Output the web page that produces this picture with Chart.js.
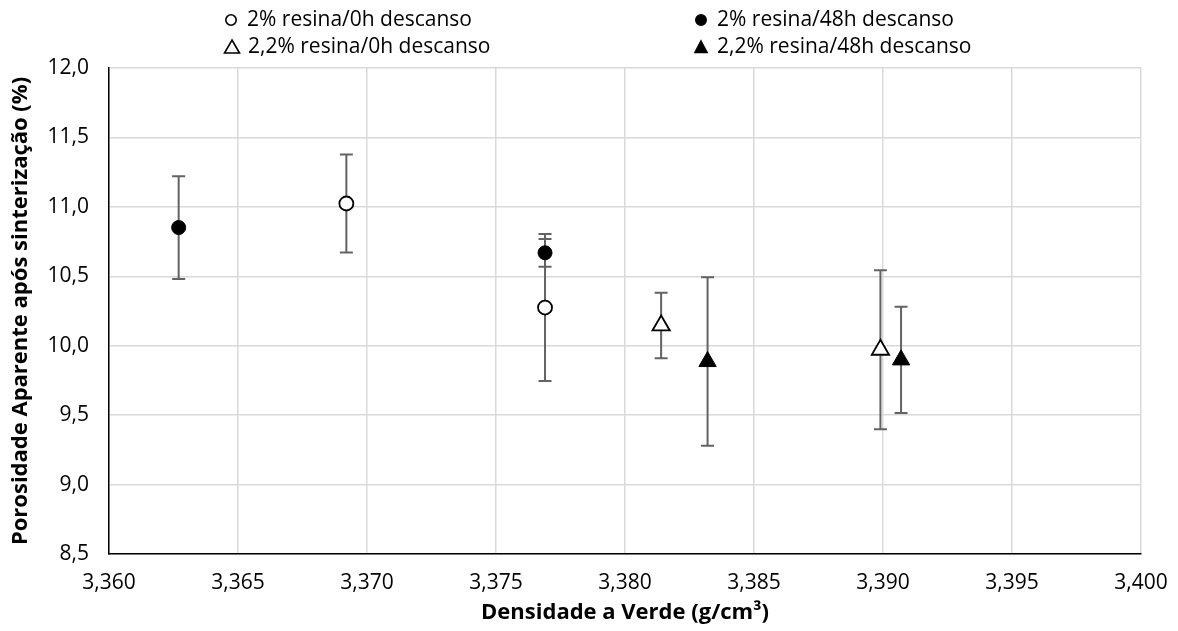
<!DOCTYPE html>
<html>
<head>
<meta charset="utf-8">
<script src="https://cdn.jsdelivr.net/npm/chart.js@4.4.1/dist/chart.umd.min.js"></script>
<style>
  body { margin: 0; background: #fff; }
  #wrap { width: 1178px; height: 631px; position: relative; }
</style>
</head>
<body>
<div id="wrap"><canvas id="porosidadeChart"></canvas></div>
<script>
// series labels (legend)
const seriesLabels = [
  "2% resina/0h descanso",
  "2% resina/48h descanso",
  "2,2% resina/0h descanso",
  "2,2% resina/48h descanso",
];

// densidade a verde (g/cm3)
const xResina2_0h = [3.3692, 3.3769];
const xResina2_48h = [3.3627, 3.3769];
const xResina22_0h = [3.3814, 3.3899];
const xResina22_48h = [3.3832, 3.3907];

// porosidade aparente (%)
const yResina2_0h = [11.024, 10.275];
const yResina2_48h = [10.851, 10.669];
const yResina22_0h = [10.146, 9.971];
const yResina22_48h = [9.886, 9.898];

// desvio (error bars, +/-)
const errResina2_0h = [0.353, 0.53];
const errResina2_48h = [0.37, 0.1];
const errResina22_0h = [0.236, 0.573];
const errResina22_48h = [0.607, 0.382];

// axis ticks
const xMin = 3.36, xMax = 3.4, xStep = 0.005;
const yMin = 8.5, yMax = 12.0, yStep = 0.5;

const FONT = "'Open Sans', sans-serif";

function toPoints(xs, ys, errs) {
  return xs.map((x, i) => ({ x: x, y: ys[i], err: errs[i] }));
}

// draws vertical error bars behind the markers
const errorBarPlugin = {
  id: "errorBars",
  beforeDatasetsDraw(chart) {
    const ctx = chart.ctx;
    const xs = chart.scales.x;
    const ys = chart.scales.y;
    ctx.save();
    ctx.strokeStyle = "#636363";
    ctx.lineWidth = 2;
    chart.data.datasets.forEach((ds) => {
      ds.data.forEach((p) => {
        const px = xs.getPixelForValue(p.x);
        const top = ys.getPixelForValue(p.y + p.err);
        const bot = ys.getPixelForValue(p.y - p.err);
        ctx.beginPath();
        ctx.moveTo(px, top);
        ctx.lineTo(px, bot);
        ctx.moveTo(px - 6.5, top);
        ctx.lineTo(px + 6.5, top);
        ctx.moveTo(px - 6.5, bot);
        ctx.lineTo(px + 6.5, bot);
        ctx.stroke();
      });
    });
    ctx.restore();
  },
};

// legend in two columns like the original
const legendPlugin = {
  id: "twoColLegend",
  afterDraw(chart) {
    const ctx = chart.ctx;
    const spots = [
      { x: 231, y: 20 },
      { x: 701, y: 20 },
      { x: 232, y: 47 },
      { x: 701, y: 47 },
    ];
    ctx.save();
    chart.data.datasets.forEach((ds, i) => {
      const s = spots[i];
      const filled = ds.backgroundColor === "#000";
      ctx.fillStyle = ds.backgroundColor;
      ctx.strokeStyle = "#000";
      ctx.lineWidth = 1.6;
      ctx.beginPath();
      if (ds.pointStyle === "circle") {
        ctx.arc(s.x, s.y, 5.2, 0, Math.PI * 2);
      } else if (filled) {
        ctx.moveTo(s.x, s.y - 6);
        ctx.lineTo(s.x + 6, s.y + 5.5);
        ctx.lineTo(s.x - 6, s.y + 5.5);
        ctx.closePath();
      } else {
        ctx.moveTo(s.x, s.y - 7);
        ctx.lineTo(s.x + 7.5, s.y + 6);
        ctx.lineTo(s.x - 7.5, s.y + 6);
        ctx.closePath();
      }
      ctx.fill();
      ctx.stroke();
      ctx.fillStyle = "#000";
      ctx.font = "21px " + FONT;
      ctx.textBaseline = "middle";
      ctx.textAlign = "left";
      ctx.fillText(ds.label, s.x + 16, s.y);
    });
    ctx.restore();
  },
};

const ctx = document.getElementById("porosidadeChart").getContext("2d");
new Chart(ctx, {
  type: "scatter",
  data: {
    datasets: [
      {
        label: seriesLabels[0],
        data: toPoints(xResina2_0h, yResina2_0h, errResina2_0h),
        pointStyle: "circle",
        pointRadius: 7,
        backgroundColor: "#fff",
        borderColor: "#000",
        borderWidth: 1.8,
      },
      {
        label: seriesLabels[1],
        data: toPoints(xResina2_48h, yResina2_48h, errResina2_48h),
        pointStyle: "circle",
        pointRadius: 7,
        backgroundColor: "#000",
        borderColor: "#000",
        borderWidth: 1,
      },
      {
        label: seriesLabels[2],
        data: toPoints(xResina22_0h, yResina22_0h, errResina22_0h),
        pointStyle: "triangle",
        pointRadius: 10,
        backgroundColor: "#fff",
        borderColor: "#000",
        borderWidth: 1.8,
      },
      {
        label: seriesLabels[3],
        data: toPoints(xResina22_48h, yResina22_48h, errResina22_48h),
        pointStyle: "triangle",
        pointRadius: 10,
        backgroundColor: "#000",
        borderColor: "#000",
        borderWidth: 1,
      },
    ],
  },
  options: {
    responsive: true,
    maintainAspectRatio: false,
    animation: false,
    layout: { padding: { top: 68, right: 37, left: 0, bottom: 0 } },
    plugins: {
      legend: { display: false },
      tooltip: { enabled: false },
    },
    scales: {
      x: {
        type: "linear",
        min: xMin,
        max: xMax,
        afterFit: (scale) => {
          scale.height = 77;
          scale.paddingLeft = 0;
          scale.paddingRight = 0;
        },
        border: { color: "#000", width: 1.5 },
        grid: { color: "#d9d9d9", lineWidth: 1.5, drawTicks: false },
        ticks: {
          stepSize: xStep,
          padding: 16,
          color: "#000",
          font: { family: FONT, size: 21 },
          callback: (v) => v.toFixed(3).replace(".", ","),
        },
        title: {
          display: true,
          text: "Densidade a Verde (g/cm³)",
          color: "#000",
          font: { family: FONT, size: 22, weight: "bold" },
          padding: { top: 0, bottom: 5 },
        },
      },
      y: {
        min: yMin,
        max: yMax,
        afterFit: (scale) => {
          scale.width = 109;
          scale.paddingTop = 0;
          scale.paddingBottom = 0;
        },
        border: { color: "#000", width: 1.5 },
        grid: { color: "#d9d9d9", lineWidth: 1.5, drawTicks: false },
        ticks: {
          stepSize: yStep,
          padding: 20,
          color: "#000",
          font: { family: FONT, size: 21 },
          callback: (v) => v.toFixed(1).replace(".", ","),
        },
        title: {
          display: true,
          text: "Porosidade Aparente após sinterização (%)",
          color: "#000",
          font: { family: FONT, size: 22, weight: "bold" },
          padding: { top: 8, bottom: 0 },
        },
      },
    },
  },
  plugins: [errorBarPlugin, legendPlugin],
});
</script>
</body>
</html>
